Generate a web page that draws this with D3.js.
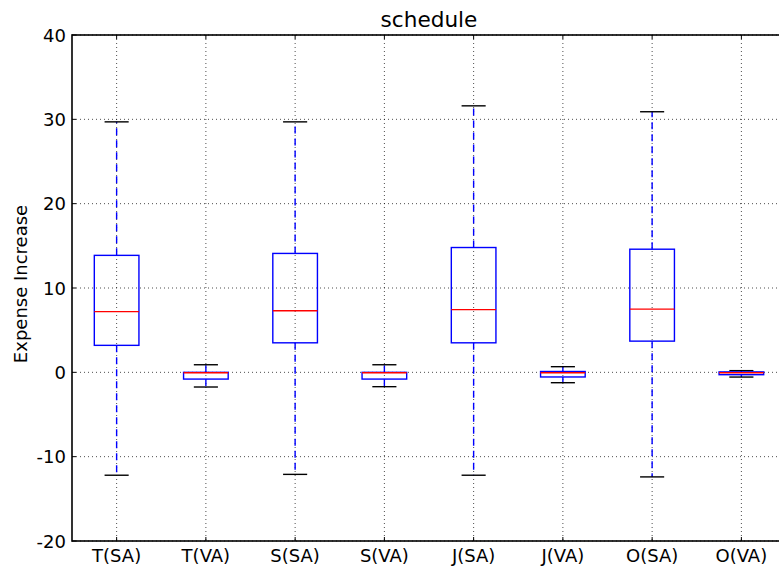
<!DOCTYPE html>
<html><head><meta charset="utf-8">
<script src="https://cdn.jsdelivr.net/npm/d3@7/dist/d3.min.js"></script>
<style>body{margin:0;background:#fff}svg{display:block}text{font-family:"DejaVu Sans",sans-serif}</style>
</head><body>
<script>
const categories = ["T(SA)","T(VA)","S(SA)","S(VA)","J(SA)","J(VA)","O(SA)","O(VA)"];
const whiskerLow  = [-12.2, -1.74, -12.1, -1.7, -12.2, -1.23, -12.4, -0.56];
const q1          = [3.2,  -0.8,  3.5,  -0.8,  3.5,  -0.55, 3.7,  -0.28];
const median      = [7.2,  -0.05, 7.3,  -0.05, 7.43, -0.05, 7.5,  -0.05];
const q3          = [13.87, 0.0,  14.1,  0.0,  14.8,  0.1,  14.6,  0.05];
const whiskerHigh = [29.7,  0.9,  29.7,  0.9,  31.6,  0.67, 30.9,  0.2];
const yTicks = [-20,-10,0,10,20,30,40];
const title = "schedule", yLabel = "Expense Increase";

const W=779,H=569, L=72, R=786, T=35, B=541;
const svg=d3.select("body").append("svg").attr("width",W).attr("height",H);
const x=d3.scaleLinear().domain([0.5,8.5]).range([L,R]);
const y=d3.scaleLinear().domain([-20,40]).range([B,T]);
const pos=categories.map((c,i)=>i+1);

const g=svg.append("g");
// grid
g.selectAll(".gx").data(pos).join("line").attr("x1",d=>x(d)).attr("x2",d=>x(d)).attr("y1",T).attr("y2",B)
 .attr("stroke","#000").attr("stroke-width",0.7).attr("stroke-dasharray","1,3");
g.selectAll(".gy").data(yTicks).join("line").attr("x1",L).attr("x2",R).attr("y1",d=>y(d)).attr("y2",d=>y(d))
 .attr("stroke","#000").attr("stroke-width",0.7).attr("stroke-dasharray","1,3");

const data=categories.map((c,i)=>({c,p:i+1,lo:whiskerLow[i],q1:q1[i],md:median[i],q3:q3[i],hi:whiskerHigh[i]}));
const bw=0.5, cw=0.27;
const bx=g.selectAll(".b").data(data).join("g");
bx.append("line").attr("x1",d=>x(d.p)).attr("x2",d=>x(d.p)).attr("y1",d=>y(d.q3)).attr("y2",d=>y(d.hi))
 .attr("stroke","#0000ff").attr("stroke-width",1.4).attr("stroke-dasharray","7,5");
bx.append("line").attr("x1",d=>x(d.p)).attr("x2",d=>x(d.p)).attr("y1",d=>y(d.q1)).attr("y2",d=>y(d.lo))
 .attr("stroke","#0000ff").attr("stroke-width",1.4).attr("stroke-dasharray","7,5");
bx.append("line").attr("x1",d=>x(d.p-cw/2)).attr("x2",d=>x(d.p+cw/2)).attr("y1",d=>y(d.hi)).attr("y2",d=>y(d.hi)).attr("stroke","#000").attr("stroke-width",1.4);
bx.append("line").attr("x1",d=>x(d.p-cw/2)).attr("x2",d=>x(d.p+cw/2)).attr("y1",d=>y(d.lo)).attr("y2",d=>y(d.lo)).attr("stroke","#000").attr("stroke-width",1.4);
bx.append("rect").attr("x",d=>x(d.p-bw/2)).attr("width",d=>x(d.p+bw/2)-x(d.p-bw/2))
 .attr("y",d=>y(d.q3)).attr("height",d=>Math.max(0.01,y(d.q1)-y(d.q3))).attr("fill","none").attr("stroke","#0000ff").attr("stroke-width",1.4);
bx.append("line").attr("x1",d=>x(d.p-bw/2)).attr("x2",d=>x(d.p+bw/2)).attr("y1",d=>y(d.md)).attr("y2",d=>y(d.md)).attr("stroke","#ff0000").attr("stroke-width",1.4);

// ticks (inward)
g.selectAll(".tb").data(pos).join("line").attr("x1",d=>x(d)).attr("x2",d=>x(d)).attr("y1",B).attr("y2",B-4).attr("stroke","#000");
g.selectAll(".tt").data(pos).join("line").attr("x1",d=>x(d)).attr("x2",d=>x(d)).attr("y1",T).attr("y2",T+4).attr("stroke","#000");
g.selectAll(".tl").data(yTicks).join("line").attr("x1",L).attr("x2",L+4).attr("y1",d=>y(d)).attr("y2",d=>y(d)).attr("stroke","#000");
g.selectAll(".tr").data(yTicks).join("line").attr("x1",R).attr("x2",R-4).attr("y1",d=>y(d)).attr("y2",d=>y(d)).attr("stroke","#000");
// spines
g.append("rect").attr("x",L).attr("y",T).attr("width",R-L).attr("height",B-T).attr("fill","none").attr("stroke","#000").attr("stroke-width",1.6);

// labels
g.selectAll(".xl").data(data).join("text").attr("x",d=>x(d.p)).attr("y",B+21).attr("text-anchor","middle")
 .attr("font-size",18).text(d=>d.c);
g.selectAll(".yl").data(yTicks).join("text").attr("x",L-6).attr("y",d=>y(d)+6.5).attr("text-anchor","end")
 .attr("font-size",18).text(d=>d<0?"-"+Math.abs(d):d);
svg.append("text").attr("x",(L+R)/2).attr("y",27).attr("text-anchor","middle").attr("font-size",21.6).text(title);
svg.append("text").attr("transform",`translate(27,${(T+B)/2-4}) rotate(-90)`).attr("text-anchor","middle").attr("font-size",18).text(yLabel);
</script>
</body></html>
